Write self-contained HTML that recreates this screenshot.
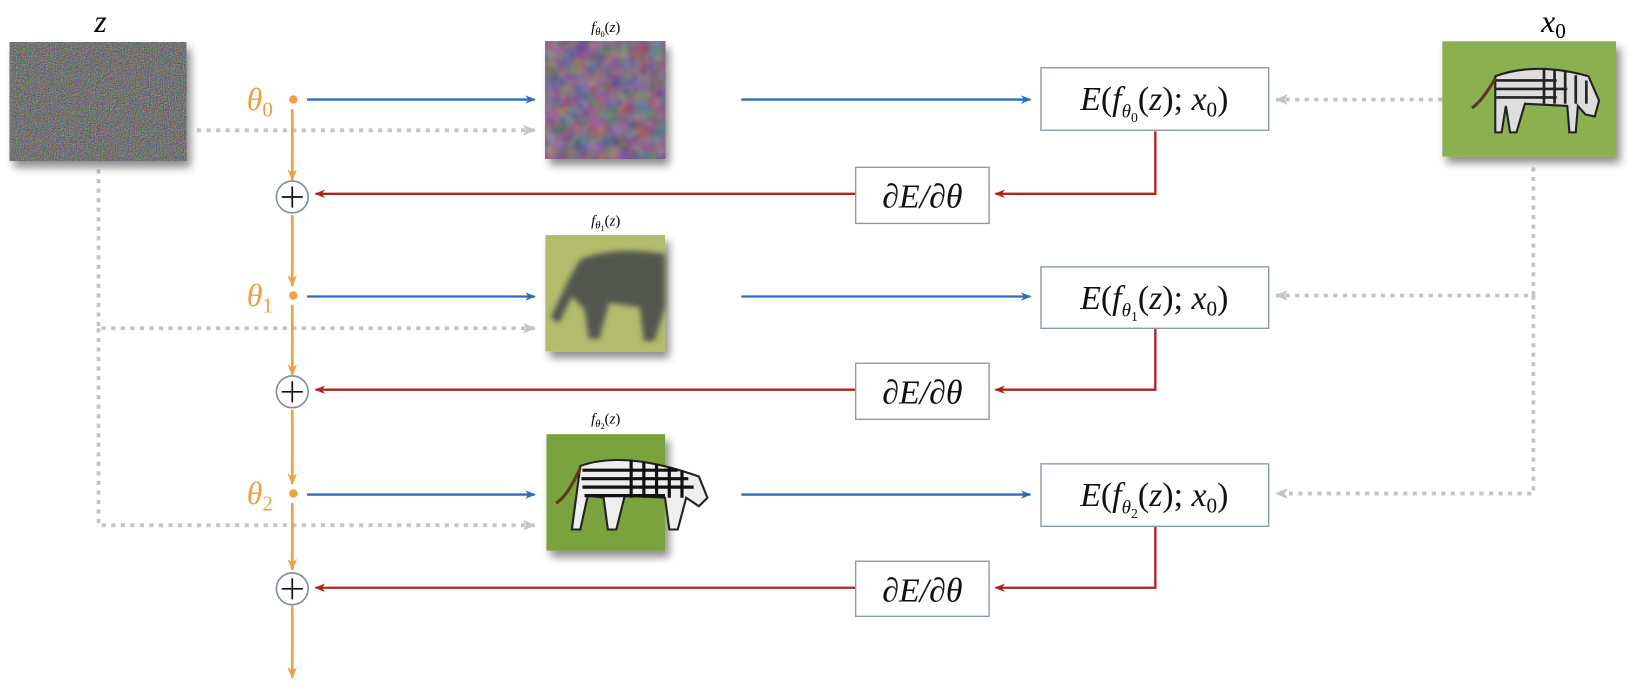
<!DOCTYPE html>
<html><head><meta charset="utf-8"><style>
html,body{margin:0;padding:0;background:#fff;}
svg{display:block;}
text{font-family:"Liberation Serif","DejaVu Serif",serif;}
.m{font-style:italic;}
</style></head><body>
<svg width="1652" height="700" viewBox="0 0 1560 661" preserveAspectRatio="none" xmlns="http://www.w3.org/2000/svg">
<defs>
<filter id="sh" x="-20%" y="-20%" width="150%" height="160%"><feDropShadow dx="4" dy="6" stdDeviation="4" flood-color="#000" flood-opacity="0.45"/></filter>
<filter id="noise" x="0" y="0" width="100%" height="100%" color-interpolation-filters="sRGB"><feTurbulence type="fractalNoise" baseFrequency="0.9" numOctaves="2" seed="3"/><feColorMatrix type="matrix" values="0.7 0 0 0 0.1  0 0.7 0 0 0.1  0 0 0.7 0 0.1  0 0 0 0 1"/></filter>
<filter id="mott" x="0" y="0" width="100%" height="100%" color-interpolation-filters="sRGB"><feTurbulence type="fractalNoise" baseFrequency="0.07" numOctaves="2" seed="7"/><feColorMatrix type="matrix" values="0.45 0 0 0 0.28  0 0.35 0 0 0.25  0 0 0.45 0 0.3  0 0 0 0 1"/></filter>
<filter id="blur"><feGaussianBlur stdDeviation="2.5"/></filter>
<marker id="ab" markerWidth="10" markerHeight="8" refX="9" refY="4" orient="auto" markerUnits="userSpaceOnUse"><path d="M0,0 L10,4 L0,8 L3,4z" fill="#2a6fb5"/></marker>
<marker id="ar" markerWidth="10" markerHeight="8" refX="9" refY="4" orient="auto" markerUnits="userSpaceOnUse"><path d="M0,0 L10,4 L0,8 L3,4z" fill="#b0231d"/></marker>
<marker id="ao" markerWidth="11" markerHeight="9" refX="10" refY="4.5" orient="auto" markerUnits="userSpaceOnUse"><path d="M0,0 L11,4.5 L0,9 L3,4.5z" fill="#f0a040"/></marker>
<marker id="ag" markerWidth="12" markerHeight="10" refX="11" refY="5" orient="auto" markerUnits="userSpaceOnUse"><path d="M0,0 L12,5 L0,10 L3,5z" fill="#c4c4c4"/></marker>
</defs>

<g stroke="#c4c4c4" stroke-width="3.5" stroke-dasharray="4,5" fill="none">
<path d="M186 123 H505" marker-end="url(#ag)"/>
<path d="M93 160 V310 H505" marker-end="url(#ag)"/>
<path d="M93 310 V496 H505" marker-end="url(#ag)"/>
<path d="M1362 94 H1205" marker-end="url(#ag)"/>
<path d="M1448 158 V279 H1205" marker-end="url(#ag)"/>
<path d="M1448 279 V466 H1205" marker-end="url(#ag)"/>
</g>

<rect x="9" y="40" width="167" height="112" filter="url(#sh)" fill="#777"/>
<rect x="9" y="40" width="167" height="112" filter="url(#noise)"/>

<g filter="url(#sh)"><rect x="515" y="39" width="113" height="111" fill="#7a6a88"/></g>
<rect x="515" y="39" width="113" height="111" filter="url(#mott)"/>

<g filter="url(#sh)"><rect x="515" y="222" width="113" height="110" fill="#b3bc6c"/></g>
<g filter="url(#blur)" fill="#3a3c48" opacity="0.8">
<path d="M548 245 Q580 232 628 240 L628 290 L618 322 L608 322 L604 290 L575 286 L566 320 L556 320 L552 292 L540 280 L528 305 L520 300 L538 262 Z"/>
</g>

<g filter="url(#sh)"><rect x="516" y="410" width="112" height="110" fill="#7aa33c"/></g>
<path d="M548 440 Q590 425 660 450 L668 470 L660 478 L648 470 L640 500 L632 500 L628 470 L590 468 L582 500 L574 500 L570 470 L555 468 L548 500 L540 500 Z" fill="#eee" stroke="#222" stroke-width="2"/>
<g stroke="#111" stroke-width="3"><path d="M550 444 H640 M549 452 H650 M550 460 H655 M552 468 H628"/></g>
<g stroke="#111" stroke-width="3"><path d="M596 434 V470 M608 436 V470 M620 438 V470 M632 441 V470 M644 445 V470"/></g>
<path d="M548 442 Q535 470 525 475" stroke="#5a3a20" stroke-width="3" fill="none"/>

<g filter="url(#sh)"><rect x="1362" y="39" width="164" height="109" fill="#8cb050"/></g>
<path d="M1412 72 Q1450 58 1500 72 L1510 95 L1506 110 L1497 108 L1490 100 L1488 125 L1482 125 L1480 100 L1440 98 L1432 125 L1426 125 L1422 100 L1418 125 L1412 125 Z" fill="#ddd" stroke="#222" stroke-width="2"/>
<g stroke="#222" stroke-width="2.5"><path d="M1412 76 H1470 M1412 84 H1480 M1413 92 H1470"/><path d="M1458 64 V98 M1468 66 V98 M1478 68 V98 M1488 71 V98 M1498 76 V98"/></g>
<path d="M1412 74 Q1400 95 1390 102" stroke="#5a3a20" stroke-width="3" fill="none"/>

<text x="95" y="30" font-size="30" class="m" text-anchor="middle">z</text>
<text x="1467" y="30" font-size="30" class="m" text-anchor="middle">x<tspan font-size="20" font-style="normal" dy="6">0</tspan></text>
<text x="572" y="30" font-size="14" class="m" text-anchor="middle">f<tspan font-size="10" dy="3">θ</tspan><tspan font-size="8" font-style="normal" dy="2">0</tspan><tspan dy="-5" font-style="normal">(</tspan>z<tspan font-style="normal">)</tspan></text>
<text x="572" y="213" font-size="14" class="m" text-anchor="middle">f<tspan font-size="10" dy="3">θ</tspan><tspan font-size="8" font-style="normal" dy="2">1</tspan><tspan dy="-5" font-style="normal">(</tspan>z<tspan font-style="normal">)</tspan></text>
<text x="572" y="400" font-size="14" class="m" text-anchor="middle">f<tspan font-size="10" dy="3">θ</tspan><tspan font-size="8" font-style="normal" dy="2">2</tspan><tspan dy="-5" font-style="normal">(</tspan>z<tspan font-style="normal">)</tspan></text>

<g stroke="#f0a040" stroke-width="2.5" fill="none">
<path d="M276 103 V170" marker-end="url(#ao)"/>
<path d="M276 203 V270" marker-end="url(#ao)"/>
<path d="M276 288 V354" marker-end="url(#ao)"/>
<path d="M276 387 V457" marker-end="url(#ao)"/>
<path d="M276 475 V538" marker-end="url(#ao)"/>
<path d="M276 572 V640" marker-end="url(#ao)"/>
</g>
<g fill="#f0a040"><circle cx="277" cy="94" r="4"/><circle cx="277" cy="279" r="4"/><circle cx="277" cy="466" r="4"/></g>
<g fill="#f0a040" font-size="30" class="m">
<text x="233" y="104">θ<tspan font-size="20" font-style="normal" dy="6">0</tspan></text>
<text x="233" y="289">θ<tspan font-size="20" font-style="normal" dy="6">1</tspan></text>
<text x="233" y="476">θ<tspan font-size="20" font-style="normal" dy="6">2</tspan></text>
</g>
<g fill="#fff" stroke="#7a8f99" stroke-width="1.5">
<circle cx="276" cy="186" r="15"/><circle cx="276" cy="370" r="15"/><circle cx="276" cy="556" r="15"/>
</g>
<g stroke="#111" stroke-width="1.6"><path d="M266 186 H286 M276 176 V196 M266 370 H286 M276 360 V380 M266 556 H286 M276 546 V566"/></g>

<g stroke="#2a6fb5" stroke-width="2.2" fill="none">
<path d="M290 94 H505" marker-end="url(#ab)"/><path d="M700 94 H973" marker-end="url(#ab)"/>
<path d="M290 280 H505" marker-end="url(#ab)"/><path d="M700 280 H973" marker-end="url(#ab)"/>
<path d="M290 467 H505" marker-end="url(#ab)"/><path d="M700 467 H973" marker-end="url(#ab)"/>
</g>

<g stroke="#b0231d" stroke-width="2.2" fill="none">
<path d="M1091 124 V183 H940" marker-end="url(#ar)"/><path d="M808 183 H298" marker-end="url(#ar)"/>
<path d="M1091 310 V368 H940" marker-end="url(#ar)"/><path d="M808 368 H298" marker-end="url(#ar)"/>
<path d="M1091 497 V555 H940" marker-end="url(#ar)"/><path d="M808 555 H298" marker-end="url(#ar)"/>
</g>

<g fill="#fff" stroke="#8a9ba3" stroke-width="1.3">
<rect x="983" y="64" width="215" height="59"/><rect x="983" y="252" width="215" height="58"/><rect x="983" y="438" width="215" height="59"/>
<rect x="808" y="158" width="126" height="53"/><rect x="808" y="343" width="126" height="53"/><rect x="808" y="530" width="126" height="52"/>
</g>
<g font-size="32" fill="#111">
<text x="1090" y="104" text-anchor="middle" class="m">E<tspan font-style="normal">(</tspan>f<tspan font-size="18" dy="7">θ</tspan><tspan font-size="13" font-style="normal" dy="4">0</tspan><tspan font-style="normal" dy="-11">(</tspan>z<tspan font-style="normal">);</tspan> x<tspan font-size="20" font-style="normal" dy="6">0</tspan><tspan font-style="normal" dy="-6">)</tspan></text>
<text x="1090" y="292" text-anchor="middle" class="m">E<tspan font-style="normal">(</tspan>f<tspan font-size="18" dy="7">θ</tspan><tspan font-size="13" font-style="normal" dy="4">1</tspan><tspan font-style="normal" dy="-11">(</tspan>z<tspan font-style="normal">);</tspan> x<tspan font-size="20" font-style="normal" dy="6">0</tspan><tspan font-style="normal" dy="-6">)</tspan></text>
<text x="1090" y="478" text-anchor="middle" class="m">E<tspan font-style="normal">(</tspan>f<tspan font-size="18" dy="7">θ</tspan><tspan font-size="13" font-style="normal" dy="4">2</tspan><tspan font-style="normal" dy="-11">(</tspan>z<tspan font-style="normal">);</tspan> x<tspan font-size="20" font-style="normal" dy="6">0</tspan><tspan font-style="normal" dy="-6">)</tspan></text>
<text x="871" y="196" text-anchor="middle" class="m">∂E/∂θ</text>
<text x="871" y="381" text-anchor="middle" class="m">∂E/∂θ</text>
<text x="871" y="568" text-anchor="middle" class="m">∂E/∂θ</text>
</g>
</svg>
</body></html>
